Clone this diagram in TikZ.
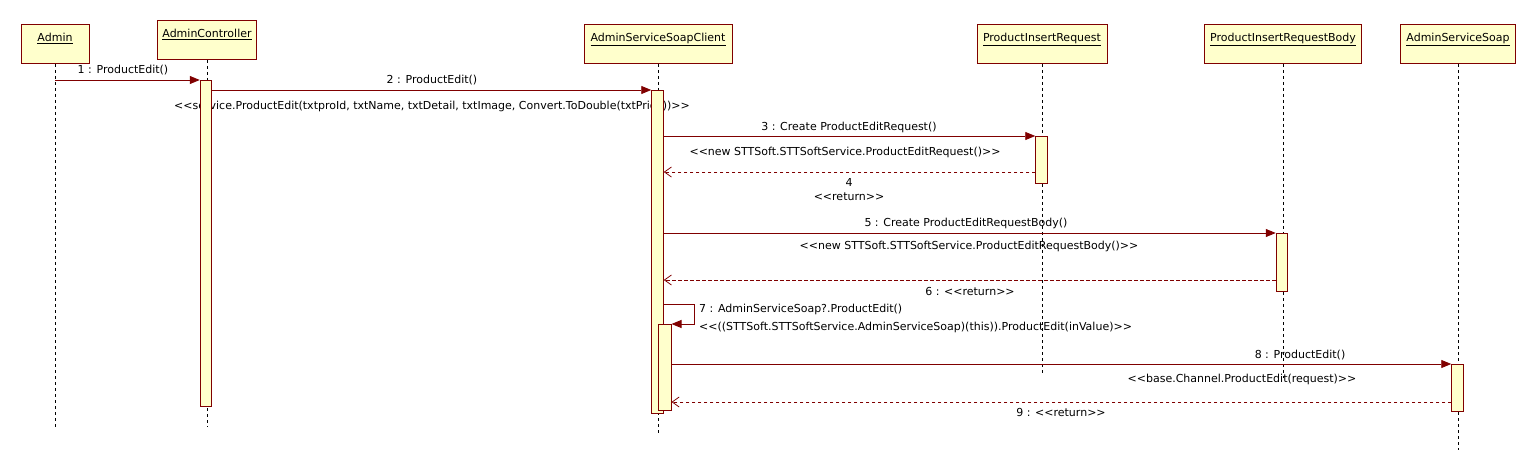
\documentclass[tikz,border=0pt]{standalone}
\usepackage{fontspec}
\setmainfont{DejaVu Sans}
\usepackage{tikz}
\usetikzlibrary{positioning,arrows.meta}
\definecolor{umlred}{RGB}{128,0,0}
\definecolor{umlfill}{RGB}{255,255,204}
\newcommand{\stereo}[1]{{<}{<}#1{>}{>}}

\begin{document}
\begin{tikzpicture}[%
  x=1pt,
  y=-1pt,
  font=\fontsize{11}{13}\selectfont,
  obj/.style={
    draw=umlred,
    fill=umlfill,
    line width=1pt,
    anchor=north,
    inner xsep=4pt,
    inner ysep=0pt,
    text height=17pt,
    text depth=22pt,},
  act/.style={
    draw=umlred,
    fill=umlfill,
    line width=1pt,
    anchor=north,
    inner sep=0pt,
    minimum width=11.5pt,},
  life/.style={
    draw=black,
    line width=0.8pt,
    dash pattern=on 3pt off 3pt,},
  msg/.style={
    draw=umlred,
    line width=0.9pt,
    -{Triangle[length=10pt,width=8pt]},},
  ret/.style={
    draw=umlred,
    line width=0.8pt,
    dash pattern=on 3.5pt off 2.5pt,
    -{Straight Barb[length=7pt,width=10pt]},},
  lbl/.style={
    inner sep=0pt,}
  ]
  \useasboundingbox (0,0) rectangle (1536,470);
  %% Objects
  \node[obj, minimum width=68pt] (Admin) at (55,24) {\underline{Admin}};
  \node[obj, minimum width=99pt] (Ctrl) at (207,20) {\underline{AdminController}};
  \node[obj, minimum width=148pt] (Client) at (658,24) {\underline{AdminServiceSoapClient}};
  \node[obj, minimum width=130pt] (Req) at (1042,24) {\underline{ProductInsertRequest}};
  \node[obj, minimum width=157pt] (Body) at (1283,24) {\underline{ProductInsertRequestBody}};
  \node[obj, minimum width=115pt] (Soap) at (1458,24) {\underline{AdminServiceSoap}};
  %% Labels
  \node[lbl] (l1) at (123,70) {1 : ProductEdit()};
  \node[lbl] (l2) at (432,80) {2 : ProductEdit()};
  \node[lbl] (s2) at (432,106) {\stereo{service.ProductEdit(txtproId, txtName, txtDetail, txtImage, Convert.ToDouble(txtPrice))}};
  \node[lbl] (l3) at (849,127) {3 : Create ProductEditRequest()};
  \node[lbl] (s3) at (845,152) {\stereo{new STTSoft.STTSoftService.ProductEditRequest()}};
  \node[lbl] (l4) at (849,182) {4};
  \node[lbl] (s4) at (849,197) {\stereo{return}};
  \node[lbl] (l5) at (966,223) {5 : Create ProductEditRequestBody()};
  \node[lbl] (s5) at (969,246) {\stereo{new STTSoft.STTSoftService.ProductEditRequestBody()}};
  \node[lbl] (l6) at (970,291) {6 : \stereo{return}};
  \node[lbl, anchor=west] (l7) at (699,309) {7 : AdminServiceSoap?.ProductEdit()};
  \node[lbl, anchor=west] (s7) at (699,327) {\stereo{((STTSoft.STTSoftService.AdminServiceSoap)(this)).ProductEdit(inValue)}};
  \node[lbl] (l8) at (1300,355) {8 : ProductEdit()};
  \node[lbl] (s8) at (1242,379) {\stereo{base.Channel.ProductEdit(request)}};
  \node[lbl] (l9) at (1061,412) {9 : \stereo{return}};
  %% Lifelines
  \draw[life] (Admin.south) -- ++(0,363);
  \draw[life] (Ctrl.south) -- ++(0,367);
  \draw[life] (Client.south) -- ++(0,369);
  \draw[life] (Req.south) -- ++(0,310);
  \draw[life] (Body.south) -- ++(0,314);
  \draw[life] (Soap.south) -- ++(0,386);
  %% Activations
  \node[act, minimum height=326pt] (aCtrl) at (206,80) {};
  \node[act, minimum height=323pt] (aClient) at (657.5,90) {};
  \node[act, minimum height=47pt] (aReq) at (1041.5,136) {};
  \node[act, minimum height=58pt] (aBody) at (1282,233) {};
  \node[act, minimum height=86pt, minimum width=13pt] (aSelf) at (664.5,324) {};
  \node[act, minimum height=47pt] (aSoap) at (1457.5,364) {};
  %% Messages
  \draw[msg] (Admin.south |- aCtrl.north) -- (aCtrl.north west);
  \draw[msg] (aCtrl.east |- aClient.north) -- (aClient.north west);
  \draw[msg] (aClient.east |- aReq.north) -- (aReq.north west);
  \draw[ret] (aReq.west |- 0,172) -- (aClient.east |- 0,172);
  \draw[msg] (aClient.east |- aBody.north) -- (aBody.north west);
  \draw[ret] (aBody.west |- 0,280) -- (aClient.east |- 0,280);
  \draw[msg] (aClient.east |- 0,304) -- ++(31,0) |- (aSelf.north east);
  \draw[msg] (aSelf.east |- aSoap.north) -- (aSoap.north west);
  \draw[ret] (aSoap.west |- 0,402) -- (aSelf.east |- 0,402);
\end{tikzpicture}
\end{document}
